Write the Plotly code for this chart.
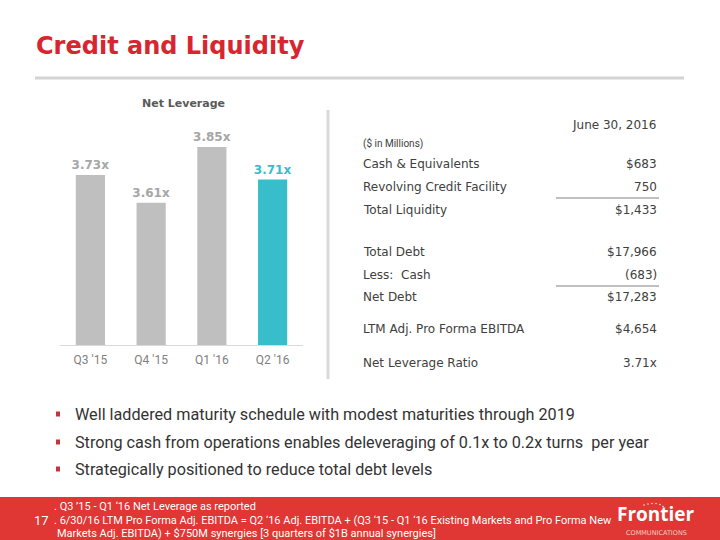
import plotly.graph_objects as go

# ---- data ----
quarters = ["Q3 '15", "Q4 '15", "Q1 '16", "Q2 '16"]
net_leverage = [3.73, 3.61, 3.85, 3.71]
bar_colors = ["#bfbfbf", "#bfbfbf", "#bfbfbf", "#38bdca"]
label_colors = ["#a6a6a6", "#a6a6a6", "#a6a6a6", "#38bdca"]

table_labels = ["Cash & Equivalents", "Revolving Credit Facility", "Total Liquidity",
                "Total Debt", "Less:  Cash", "Net Debt",
                "LTM Adj. Pro Forma EBITDA", "Net Leverage Ratio"]
table_values = ["$683", "750", "$1,433", "$17,966", "(683)", "$17,283", "$4,654", "3.71x"]

bullets = [
    "Well laddered maturity schedule with modest maturities through 2019",
    "Strong cash from operations enables deleveraging of 0.1x to 0.2x turns  per year",
    "Strategically positioned to reduce total debt levels",
]
footnotes = [
    ". Q3 ’15 - Q1 ‘16 Net Leverage as reported",
    ". 6/30/16 LTM Pro Forma Adj. EBITDA = Q2 ‘16 Adj. EBITDA + (Q3 ‘15 - Q1 ‘16 Existing Markets and Pro Forma New",
    "Markets Adj. EBITDA) + $750M synergies [3 quarters of $1B annual synergies]",
]

W, H = 720, 540
def px(x): return x / W
def py(y): return 1 - y / H

TEXT = "#404040"
BODY_FONT = "DejaVu Sans"
SANS = "Roboto, sans-serif"

fig = go.Figure()
fig.add_trace(go.Bar(
    x=quarters, y=net_leverage, width=0.48,
    marker=dict(color=bar_colors, line=dict(width=0)),
    text=[f"<b>{v:.2f}x</b>" for v in net_leverage], textposition="outside",
    textfont=dict(family=BODY_FONT, size=12, color=label_colors),
    constraintext="none", cliponaxis=False, hoverinfo="skip",
))

fig.update_layout(
    width=W, height=H, margin=dict(l=0, r=0, t=0, b=0),
    paper_bgcolor="white", plot_bgcolor="white", showlegend=False,
    xaxis=dict(domain=[px(60), px(303)], showline=True, linecolor="#d9d9d9", linewidth=1,
               ticks="", showgrid=False, tickfont=dict(family=SANS, size=12, color="#808080"),
               ticklabelstandoff=4, fixedrange=True),
    yaxis=dict(domain=[py(345), py(112)], range=[3.0, 4.0], visible=False, showgrid=False,
               fixedrange=True),
)

shapes = []
annotations = []

# title + rule
annotations.append(dict(x=px(34), y=py(46), xref="paper", yref="paper", xanchor="left", yanchor="middle",
                        text="<b>Credit and Liquidity</b>", showarrow=False,
                        font=dict(family=BODY_FONT, size=24, color="#d7262f")))
shapes.append(dict(type="line", xref="paper", yref="paper", x0=px(35), x1=px(684), y0=py(78), y1=py(78),
                   line=dict(color="#d4d4d4", width=3)))

# chart title
annotations.append(dict(x=px(183), y=py(103), xref="paper", yref="paper", xanchor="center", yanchor="middle",
                        text="<b>Net Leverage</b>", showarrow=False,
                        font=dict(family=BODY_FONT, size=11, color="#595959")))

# vertical separator
shapes.append(dict(type="line", xref="paper", yref="paper", x0=px(328), x1=px(328), y0=py(110), y1=py(379),
                   line=dict(color="#d9d9d9", width=3)))

# table
annotations.append(dict(x=px(658), y=py(125), xref="paper", yref="paper", xanchor="right", yanchor="middle",
                        text="June 30, 2016", showarrow=False, font=dict(family=BODY_FONT, size=12, color=TEXT)))
annotations.append(dict(x=px(361), y=py(144), xref="paper", yref="paper", xanchor="left", yanchor="middle",
                        text="($ in Millions)", showarrow=False, font=dict(family=SANS, size=10, color=TEXT)))
row_y = [164, 187, 210, 252, 275, 297, 329, 363]
for lab, val, yy in zip(table_labels, table_values, row_y):
    annotations.append(dict(x=px(361), y=py(yy), xref="paper", yref="paper", xanchor="left", yanchor="middle",
                            text=lab, showarrow=False, font=dict(family=BODY_FONT, size=12, color=TEXT)))
    annotations.append(dict(x=px(659), y=py(yy), xref="paper", yref="paper", xanchor="right", yanchor="middle",
                            text=val, showarrow=False, font=dict(family=BODY_FONT, size=12, color=TEXT)))
for yy in (198, 286):
    shapes.append(dict(type="line", xref="paper", yref="paper", x0=px(556), x1=px(659), y0=py(yy), y1=py(yy),
                       line=dict(color="#808080", width=1)))

# bullets
for b, yy in zip(bullets, [414, 442, 469]):
    shapes.append(dict(type="rect", xref="paper", yref="paper", x0=px(56), x1=px(60), y0=py(yy + 2.5), y1=py(yy - 2.5),
                       fillcolor="#c8323c", line=dict(width=0)))
    annotations.append(dict(x=px(73), y=py(yy), xref="paper", yref="paper", xanchor="left", yanchor="middle",
                            text=b, showarrow=False, font=dict(family=SANS, size=16.2, color="#333333")))

# footer
shapes.append(dict(type="rect", xref="paper", yref="paper", x0=0, x1=1, y0=0, y1=py(497),
                   fillcolor="#e03634", line=dict(width=0), layer="below"))
annotations.append(dict(x=px(32), y=py(520), xref="paper", yref="paper", xanchor="left", yanchor="middle",
                        text="17", showarrow=False, font=dict(family=SANS, size=13, color="white")))
for f, yy, xx in zip(footnotes, [506, 520, 533], [52, 52, 55]):
    annotations.append(dict(x=px(xx), y=py(yy), xref="paper", yref="paper", xanchor="left", yanchor="middle",
                            text=f, showarrow=False, font=dict(family=SANS, size=11, color="white")))
annotations.append(dict(x=px(656), y=py(514), xref="paper", yref="paper", xanchor="center", yanchor="middle",
                        text="<b>Frontier</b>", showarrow=False, borderpad=0,
                        font=dict(family="Open Sans, sans-serif", size=19, color="white")))
annotations.append(dict(x=px(656), y=py(533), xref="paper", yref="paper", xanchor="center", yanchor="middle",
                        text="COMMUNICATIONS", showarrow=False, borderpad=0,
                        font=dict(family="DejaVu Sans", size=6.5, color="#f6c9c8")))
# logo dots (decorative arc)
for dx, dy in [(644, 505), (648, 504), (652, 503.5), (656, 503.5), (660, 504.5), (663, 506.5)]:
    shapes.append(dict(type="circle", xref="paper", yref="paper", x0=px(dx - 0.8), x1=px(dx + 0.8),
                       y0=py(dy + 0.8), y1=py(dy - 0.8), fillcolor="#fbdcdc", line=dict(width=0)))

fig.update_layout(shapes=shapes, annotations=annotations)
fig.write_html("out.html", config={"displayModeBar": False},
               post_script="document.body.style.margin='0px';")
